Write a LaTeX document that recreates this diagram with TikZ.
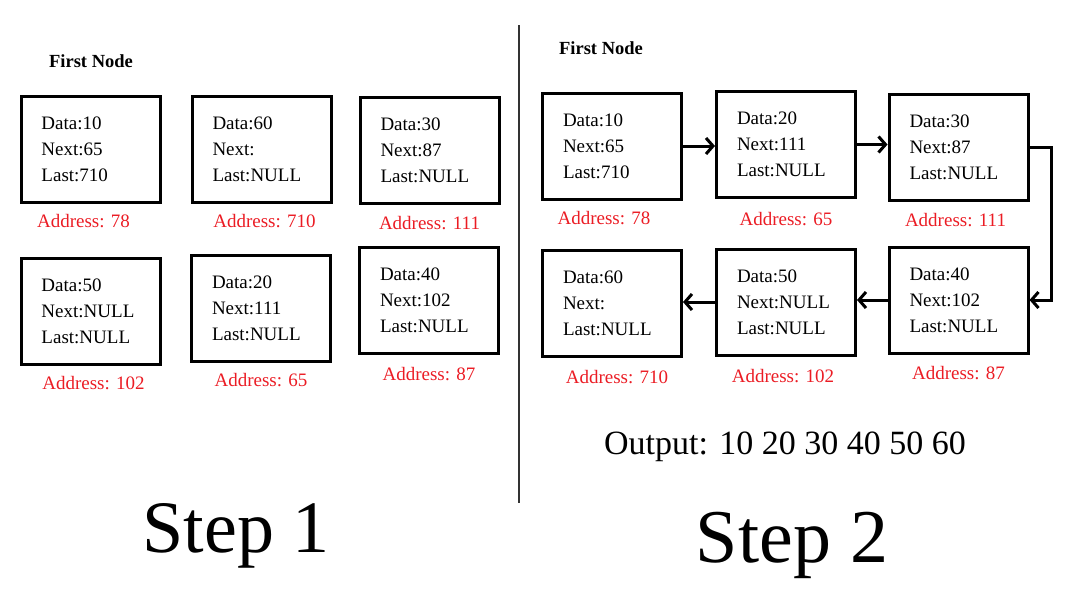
\documentclass[tikz,border=0pt]{standalone}
\usepackage{fontspec}
\setmainfont{Liberation Serif}
\usetikzlibrary{arrows.meta,positioning}
\definecolor{addrred}{RGB}{235,28,36}

\begin{document}
\begin{tikzpicture}[x=1pt,y=-1pt,
    cell/.style={draw, line width=3pt, minimum width=139, minimum height=106, text width=98, align=left, inner sep=0pt, font=\fontsize{19}{26}\selectfont},
    addr/.style={text=addrred, inner sep=0pt, font=\fontsize{19}{23}\selectfont},
    link/.style={line width=3pt, -{Straight Barb[length=7pt,width=16pt]}},
    title/.style={inner sep=0pt, font=\bfseries\fontsize{18.5}{22}\selectfont},
    big/.style={inner sep=0pt, anchor=base}]
    \useasboundingbox (0,0) rectangle (1080,608);
    \node[title] (first1) at (91,61) {First Node};
    \node[cell] (s1d10) at (90.5,149) {Data:10\\Next:65\\Last:710};
    \node[cell] (s1d60) at (261.5,149) {Data:60\\Next:\\Last:NULL};
    \node[cell] (s1d30) at (429.5,150) {Data:30\\Next:87\\Last:NULL};
    \node[cell] (s1d50) at (90.5,311) {Data:50\\Next:NULL\\Last:NULL};
    \node[cell] (s1d20) at (261,308) {Data:20\\Next:111\\Last:NULL};
    \node[cell] (s1d40) at (429,300.5) {Data:40\\Next:102\\Last:NULL};
    \node[addr, below=11pt of s1d10, xshift=-7pt] (a1d10) {Address: 78};
    \node[addr, below=11pt of s1d60, xshift=3pt] (a1d60) {Address: 710};
    \node[addr, below=12pt of s1d30] (a1d30) {Address: 111};
    \node[addr, below=11pt of s1d50, xshift=3pt] (a1d50) {Address: 102};
    \node[addr, below=11pt of s1d20] (a1d20) {Address: 65};
    \node[addr, below=12pt of s1d40] (a1d40) {Address: 87};
    \draw[line width=2pt, black!80] (519,25) -- (519,503);
    \node[title] (first2) at (601,48) {First Node};
    \node[cell] (s2d10) at (612,146) {Data:10\\Next:65\\Last:710};
    \node[cell] (s2d20) at (786,144.5) {Data:20\\Next:111\\Last:NULL};
    \node[cell] (s2d30) at (958.5,147) {Data:30\\Next:87\\Last:NULL};
    \node[cell] (s2d60) at (612,303.5) {Data:60\\Next:\\Last:NULL};
    \node[cell] (s2d50) at (786,302) {Data:50\\Next:NULL\\Last:NULL};
    \node[cell] (s2d40) at (958.5,300) {Data:40\\Next:102\\Last:NULL};
    \node[addr, below=11pt of s2d10, xshift=-8pt] (a2d10) {Address: 78};
    \node[addr, below=13pt of s2d20] (a2d20) {Address: 65};
    \node[addr, below=12pt of s2d30, xshift=-3pt] (a2d30) {Address: 111};
    \node[addr, below=12pt of s2d60, xshift=5pt] (a2d60) {Address: 710};
    \node[addr, below=13pt of s2d50, xshift=-3pt] (a2d50) {Address: 102};
    \node[addr, below=12pt of s2d40] (a2d40) {Address: 87};
    \draw[link] (s2d10.east) -- (s2d10.east -| s2d20.west);
    \draw[link] (s2d20.east) -- (s2d20.east -| s2d30.west);
    \draw[link] (s2d30.east) -- ++(22,0) |- (s2d40.east);
    \draw[link] (s2d40.west) -- (s2d40.west -| s2d50.east);
    \draw[link] (s2d50.west) -- (s2d50.west -| s2d60.east);
    \node[inner sep=0pt, font=\fontsize{34}{40}\selectfont] (output) at (785,447) {Output: 10 20 30 40 50 60};
    \node[big, font=\fontsize{74}{80}\selectfont] (step1) at (236,552) {Step 1};
    \node[big, font=\fontsize{76}{82}\selectfont] (step2) at (792,562) {Step 2};
\end{tikzpicture}
\end{document}
